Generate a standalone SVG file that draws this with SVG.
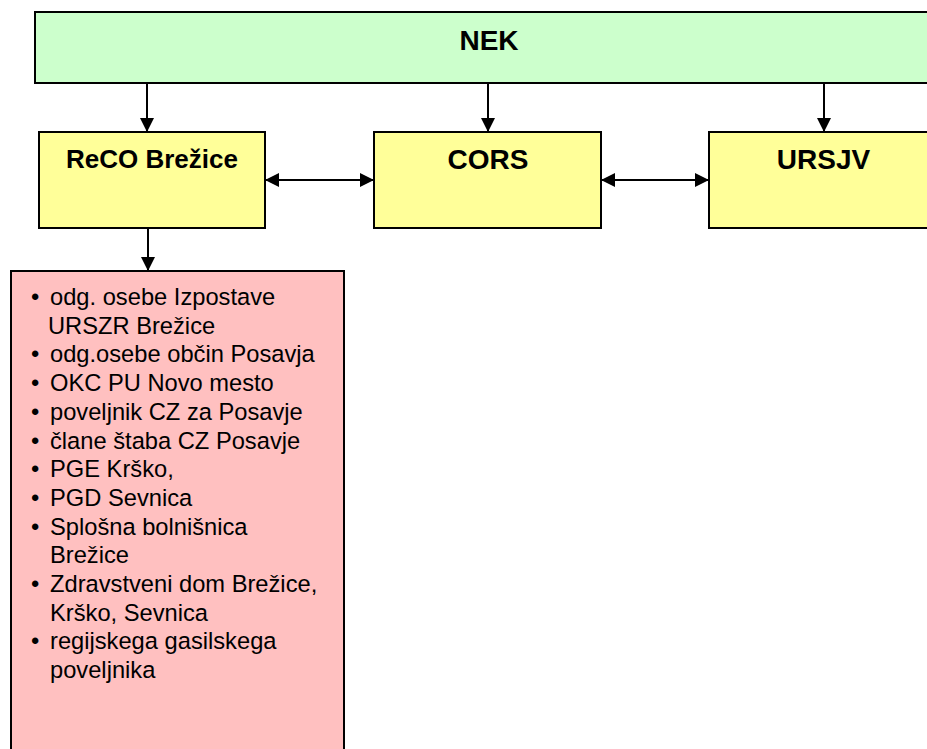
<svg xmlns="http://www.w3.org/2000/svg" width="927" height="749" viewBox="0 0 927 749">
<defs>
<style>
.box{stroke:#000;stroke-width:2}
.green{fill:#CCFFCC}
.yellow{fill:#FFFF99}
.pink{fill:#FFC0C0}
.hd{font-family:"Liberation Sans",Arial,sans-serif;font-weight:bold;fill:#000;text-anchor:middle}
.li{font-family:"Liberation Sans",Arial,sans-serif;font-size:23.7px;fill:#000}
.ln{stroke:#000;stroke-width:2;fill:none}
</style>
<marker id="ah" viewBox="0 0 10 10" refX="10" refY="5" markerWidth="15" markerHeight="14" markerUnits="userSpaceOnUse" orient="auto-start-reverse">
<path d="M0,0 L10,5 L0,10 Z" fill="#000"/>
</marker>
</defs>
<rect width="927" height="749" fill="#fff"/>
<g id="connectors">
<line class="ln" x1="147" y1="83" x2="147" y2="132" marker-end="url(#ah)"/>
<line class="ln" x1="488" y1="83" x2="488" y2="132" marker-end="url(#ah)"/>
<line class="ln" x1="824" y1="83" x2="824" y2="132" marker-end="url(#ah)"/>
<line class="ln" x1="265" y1="180" x2="374" y2="180" marker-start="url(#ah)" marker-end="url(#ah)"/>
<line class="ln" x1="601" y1="180" x2="709" y2="180" marker-start="url(#ah)" marker-end="url(#ah)"/>
<line class="ln" x1="148" y1="228" x2="148" y2="271" marker-end="url(#ah)"/>
</g>
<g id="nek">
<rect class="box green" x="35" y="12" width="910" height="71"/>
<text class="hd" x="489" y="50" font-size="28">NEK</text>
</g>
<g id="reco">
<rect class="box yellow" x="39" y="132" width="226" height="96"/>
<text class="hd" x="152" y="168" font-size="26">ReCO Brežice</text>
</g>
<g id="cors">
<rect class="box yellow" x="374" y="132" width="227" height="96"/>
<text class="hd" x="488" y="169" font-size="28">CORS</text>
</g>
<g id="ursjv">
<rect class="box yellow" x="709" y="132" width="230" height="96"/>
<text class="hd" x="823.5" y="169" font-size="28">URSJV</text>
</g>
<g id="list">
<rect class="box pink" x="11" y="271" width="333" height="490"/>
<g class="li">
<text x="31" y="305">•</text><text x="50" y="305">odg. osebe Izpostave</text>
<text x="48" y="333.7">URSZR Brežice</text>
<text x="31" y="362.4">•</text><text x="50" y="362.4">odg.osebe občin Posavja</text>
<text x="31" y="391.1">•</text><text x="50" y="391.1">OKC PU Novo mesto</text>
<text x="31" y="419.8">•</text><text x="50" y="419.8">poveljnik CZ za Posavje</text>
<text x="31" y="448.5">•</text><text x="50" y="448.5">člane štaba CZ Posavje</text>
<text x="31" y="477.2">•</text><text x="50" y="477.2">PGE Krško,</text>
<text x="31" y="505.9">•</text><text x="50" y="505.9">PGD Sevnica</text>
<text x="31" y="534.6">•</text><text x="50" y="534.6">Splošna bolnišnica</text>
<text x="50" y="563.3">Brežice</text>
<text x="31" y="592">•</text><text x="50" y="592">Zdravstveni dom Brežice,</text>
<text x="50" y="620.7">Krško, Sevnica</text>
<text x="31" y="649.4">•</text><text x="50" y="649.4">regijskega gasilskega</text>
<text x="50" y="678.1">poveljnika</text>
</g>
</g>
</svg>
